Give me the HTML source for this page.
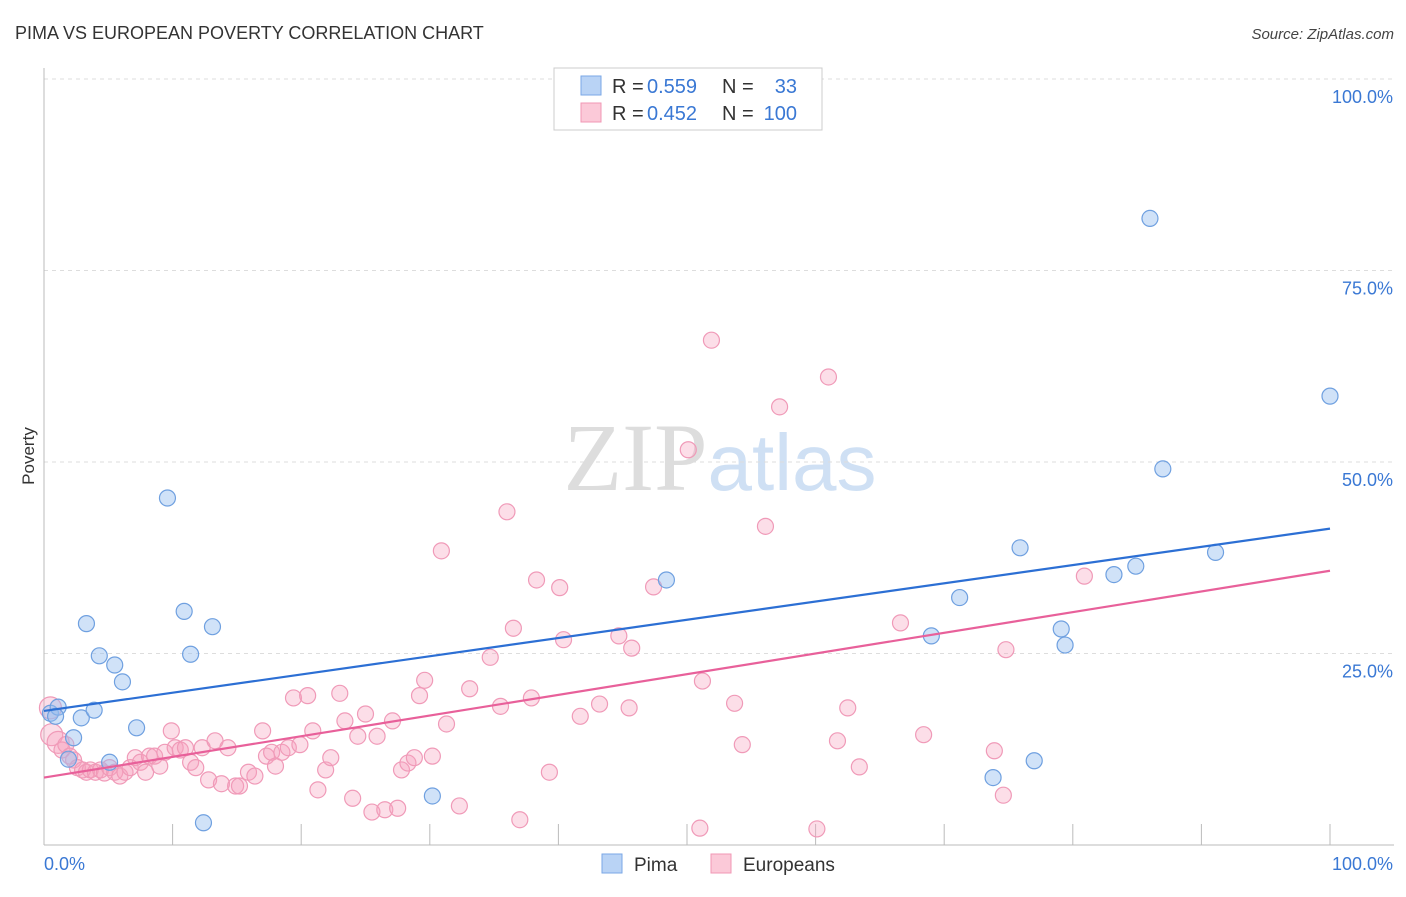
<!DOCTYPE html>
<html><head><meta charset="utf-8"><style>
body{margin:0;background:#fff;font-family:"Liberation Sans",sans-serif;}
</style></head><body>
<svg id="chart" width="1406" height="892" xmlns="http://www.w3.org/2000/svg" font-family="Liberation Sans, sans-serif">
<text x="15" y="39" font-size="18" fill="#333">PIMA VS EUROPEAN POVERTY CORRELATION CHART</text>
<text x="1394" y="39" font-size="15" fill="#444" text-anchor="end" font-style="italic">Source: ZipAtlas.com</text>
<text x="720" y="490" font-size="96" fill="#ddd" text-anchor="middle" font-family="Liberation Serif, serif">ZIP<tspan fill="#cfe0f4" font-family="Liberation Sans, sans-serif" font-size="80">atlas</tspan></text>
<g id="grid"></g>
<g id="axes"></g>
<g id="pts"></g>
<g id="lines"></g>
<text transform="translate(34,456) rotate(-90)" font-size="17" fill="#333" text-anchor="middle">Poverty</text>
<text x="44" y="870" font-size="18" fill="#3a78d4">0.0%</text>
<text x="1393" y="870" font-size="18" fill="#3a78d4" text-anchor="end">100.0%</text>
<g>
<rect x="554" y="68" width="268" height="62" fill="#fff" stroke="#ccc"/>
<rect x="581" y="76" width="20" height="19" fill="#b9d3f5" stroke="#7aa7e6"/>
<rect x="581" y="103" width="20" height="19" fill="#fbc9d8" stroke="#f097b4"/>
<text x="612" y="93" font-size="20" fill="#333">R =</text>
<text x="647" y="93" font-size="20" fill="#3a78d4">0.559</text>
<text x="722" y="93" font-size="20" fill="#333">N =</text>
<text x="797" y="93" font-size="20" fill="#3a78d4" text-anchor="end">33</text>
<text x="612" y="120" font-size="20" fill="#333">R =</text>
<text x="647" y="120" font-size="20" fill="#3a78d4">0.452</text>
<text x="722" y="120" font-size="20" fill="#333">N =</text>
<text x="797" y="120" font-size="20" fill="#3a78d4" text-anchor="end">100</text>
</g>
<g>
<rect x="602" y="854" width="20" height="19" fill="#b9d3f5" stroke="#7aa7e6"/>
<text x="634" y="871" font-size="19" fill="#333">Pima</text>
<rect x="711" y="854" width="20" height="19" fill="#fbc9d8" stroke="#f097b4"/>
<text x="743" y="871" font-size="19" fill="#333">Europeans</text>
</g>
</svg>
<script>
const yTicks=[25,50,75,100];
const yTickLabels=["25.0%","50.0%","75.0%","100.0%"];
const xTicks=[0,10,20,30,40,50,60,70,80,90,100];
const pimaX=[0.5,1.1,2.3,1.9,2.9,3.3,3.9,4.3,5.1,5.5,6.1,7.2,9.6,10.9,11.4,12.4,13.1,30.2,48.4,69.0,71.2,73.8,75.9,77.0,79.1,79.4,83.2,84.9,86.0,87.0,91.1,100,0.9];
const pimaY=[17.2,18.0,14.0,11.2,16.6,28.9,17.6,24.7,10.8,23.5,21.3,15.3,45.3,30.5,24.9,2.9,28.5,6.4,34.6,27.3,32.3,8.8,38.8,11.0,28.2,26.1,35.3,36.4,81.8,49.1,38.2,58.6,16.8];
const euroX=[0.5,0.6,1.1,1.4,1.7,2.0,2.3,2.6,3.0,3.3,3.6,4.0,4.4,4.7,5.1,5.5,5.9,6.3,6.7,7.1,7.5,7.9,8.2,8.6,9.0,9.4,9.9,10.2,10.6,11.0,11.4,11.8,12.3,12.8,13.3,13.8,14.3,14.9,15.2,15.9,16.4,17.0,17.3,17.7,18.0,18.5,19.0,19.4,19.9,20.5,20.9,21.3,21.9,22.3,23.0,23.4,24.0,24.4,25.0,25.5,25.9,26.5,27.1,27.5,27.8,28.3,28.8,29.2,29.6,30.2,30.9,31.3,32.3,33.1,34.7,35.5,36.0,36.5,37.0,37.9,38.3,39.3,40.1,40.4,41.7,43.2,44.7,45.5,45.7,47.4,50.1,51.0,51.2,51.9,53.7,54.3,56.1,57.2,60.1,61.0,61.7,62.5,63.4,66.6,68.4,73.9,74.6,74.8,80.9];
const euroY=[17.9,14.4,13.4,12.4,13.1,11.6,11.1,10.1,9.8,9.5,9.8,9.5,9.8,9.4,10.1,9.5,9.0,9.5,10.1,11.4,10.8,9.5,11.6,11.6,10.3,12.1,14.9,12.7,12.4,12.7,10.8,10.1,12.7,8.5,13.6,8.0,12.7,7.7,7.7,9.5,9.0,14.9,11.6,12.1,10.3,12.1,12.7,19.2,13.1,19.5,14.9,7.2,9.8,11.4,19.8,16.2,6.1,14.2,17.1,4.3,14.2,4.6,16.2,4.8,9.8,10.7,11.4,19.5,21.5,11.6,38.4,15.8,5.1,20.4,24.5,18.1,43.5,28.3,3.3,19.2,34.6,9.5,33.6,26.8,16.8,18.4,27.3,17.9,25.7,33.7,51.6,2.2,21.4,65.9,18.5,13.1,41.6,57.2,2.1,61.1,13.6,17.9,10.2,29.0,14.4,12.3,6.5,25.5,35.1];
const pimaLine=[17.5,41.3];
const euroLine=[8.8,35.8];
const NS="http://www.w3.org/2000/svg";
const X=v=>44+v*12.86, Y=v=>845-v*7.66;
function mk(t,a,p){const e=document.createElementNS(NS,t);for(const k in a)e.setAttribute(k,a[k]);p.appendChild(e);return e;}
const grid=document.getElementById('grid'),axes=document.getElementById('axes'),pts=document.getElementById('pts'),lines=document.getElementById('lines');
yTicks.forEach((t,i)=>{
 const l=mk('line',{x1:44,x2:1394,y1:Y(t),y2:Y(t),stroke:'#ddd','stroke-dasharray':'4,4'},grid);
 
 
 const tx=mk('text',{x:1393,y:Y(t)+24,'font-size':18,fill:'#3a78d4','text-anchor':'end'},grid);
 tx.textContent=yTickLabels[i];
 
 
});
const ax=mk('line',{x1:44,x2:1394,y1:845,y2:845,stroke:'#bbb'},axes);


const ay=mk('line',{x1:44,x2:44,y1:68,y2:845,stroke:'#bbb'},axes);


xTicks.forEach(t=>{
 const l=mk('line',{x1:X(t),x2:X(t),y1:824,y2:845,stroke:'#bbb'},axes);
 
 
});
euroX.forEach((x,i)=>{
 const c=mk('circle',{cx:X(x),cy:Y(euroY[i]),r:i<3?11:8,fill:'rgba(246,160,190,0.35)',stroke:'#f09ab8','stroke-width':1.2},pts);
 
 
});
pimaX.forEach((x,i)=>{
 const c=mk('circle',{cx:X(x),cy:Y(pimaY[i]),r:8,fill:'rgba(150,190,240,0.45)',stroke:'#6fa0e0','stroke-width':1.2},pts);
 
 
});
const lp=mk('line',{x1:X(0),x2:X(100),y1:Y(pimaLine[0]),y2:Y(pimaLine[1]),stroke:'#2c6fd4','stroke-width':2.2},lines);


const le=mk('line',{x1:X(0),x2:X(100),y1:Y(euroLine[0]),y2:Y(euroLine[1]),stroke:'#e8609a','stroke-width':2.2},lines);


</script>
</body></html>
